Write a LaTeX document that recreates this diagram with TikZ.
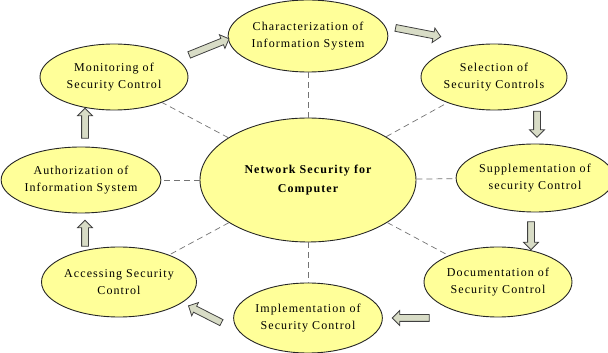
\documentclass[tikz,border=0pt]{standalone}
\usepackage{fontspec}
\setmainfont{Liberation Serif}[LetterSpace=9]
\usetikzlibrary{shapes.geometric, shapes.arrows}
\definecolor{stepfill}{HTML}{FFFF99}
\definecolor{arrowfill}{HTML}{D8DCC6}
\tikzset{
  stage/.style={ellipse, draw=black!85, line width=0.9pt, fill=stepfill, inner sep=0pt,
    align=center, font=\fontsize{12}{17}\selectfont},
  hub/.style={stage, font=\fontsize{12}{19}\selectfont\bfseries},
  link/.style={draw=black!55, dashed, dash pattern=on 6pt off 4pt, line width=0.7pt},
  blockarrow/.style={single arrow, draw=black!75, fill=arrowfill, line width=0.8pt,
    inner sep=3pt, single arrow head extend=4pt, single arrow head indent=0pt}
}

\begin{document}
\begin{tikzpicture}[x=1pt, y=1pt]
    \useasboundingbox (0,0) rectangle (608,353);
    \node[hub, minimum width=216, minimum height=124] (net) at (308,173) {Network Security for\\Computer};
    \node[stage, minimum width=148, minimum height=72] (char) at (308,317) {Characterization of\\Information System};
    \node[stage, minimum width=146, minimum height=66] (sel) at (494,276) {Selection of\\Security Controls};
    \node[stage, minimum width=144, minimum height=68] (supp) at (535,175) {Supplementation of\\security Control};
    \node[stage, minimum width=148, minimum height=70] (doc) at (498,71) {Documentation of\\Security Control};
    \node[stage, minimum width=148, minimum height=70] (impl) at (308,35) {Implementation of\\Security Control};
    \node[stage, minimum width=148, minimum height=70] (acc) at (119,71) {Accessing Security\\Control};
    \node[stage, minimum width=148, minimum height=66] (auth) at (81,173) {Authorization of\\Information System};
    \node[stage, minimum width=148, minimum height=66] (mon) at (114,276) {Monitoring of\\Security Control};
    \foreach \s in {char, sel, supp, doc, impl, acc, auth, mon}
        \draw[link] (net) -- (\s);
    \node[blockarrow, minimum height=43, rotate=22] (a1) at (207.5,305.5) {};
    \node[blockarrow, minimum height=46, rotate=-11] (a2) at (416.5,321) {};
    \node[blockarrow, minimum height=26, rotate=-90] (a3) at (537,230.5) {};
    \node[blockarrow, minimum height=28, rotate=-90] (a4) at (531,119) {};
    \node[blockarrow, minimum height=37, rotate=180] (a5) at (412.5,35) {};
    \node[blockarrow, minimum height=37, rotate=153] (a6) at (206.5,38) {};
    \node[blockarrow, minimum height=26, rotate=90] (a7) at (85,118) {};
    \node[blockarrow, minimum height=30, rotate=90] (a8) at (85,228) {};
\end{tikzpicture}
\end{document}
